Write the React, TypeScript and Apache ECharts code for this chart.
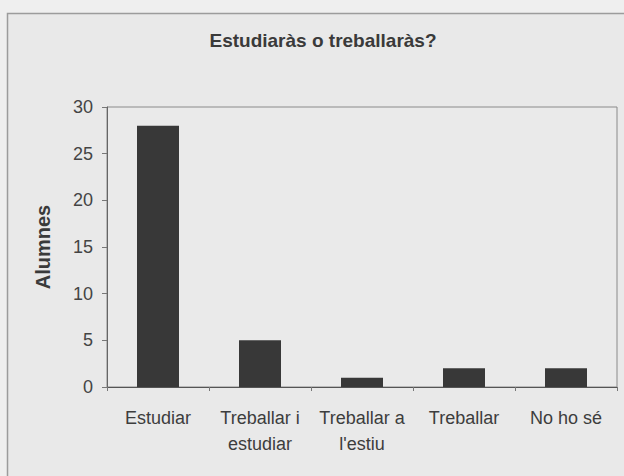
import React, { useEffect, useRef } from "react";
import * as echarts from "echarts";

const categories = ["Estudiar", "Treballar i\nestudiar", "Treballar a\nl'estiu", "Treballar", "No ho sé"];
const alumnes = [28, 5, 1, 2, 2];
const yTicks = { min: 0, max: 30, interval: 5 };
const titleText = "Estudiaràs o treballaràs?";
const yName = "Alumnes";

export default function App() {
  const ref = useRef<HTMLDivElement>(null);
  useEffect(() => {
    if (!ref.current) return;
    const chart = echarts.init(ref.current, null, { renderer: "svg" });
    const font = "'Liberation Sans', Arial, sans-serif";
    chart.setOption({
      animation: false,
      backgroundColor: "#efefef",
      textStyle: { fontFamily: font },
      graphic: [
        {
          type: "rect",
          z: -10,
          shape: { x: 7.5, y: 13.5, width: 700, height: 600 },
          style: { fill: "#e9e9e9", stroke: "#9c9c9c", lineWidth: 1.5 },
        },
        {
          type: "text",
          x: 323,
          y: 40,
          style: {
            text: titleText,
            fill: "#3a3a3a",
            font: "bold 19px 'Liberation Sans', Arial, sans-serif",
            textAlign: "center",
            textVerticalAlign: "middle",
          },
        },
      ],
      grid: {
        left: 107,
        top: 107,
        right: 7,
        bottom: 89,
        show: true,
        borderColor: "#8a8a8a",
        borderWidth: 1,
        backgroundColor: "#eaeaea",
      },
      xAxis: {
        type: "category",
        data: categories,
        axisLine: { lineStyle: { color: "#555", width: 1 } },
        axisTick: { show: true, length: 4, lineStyle: { color: "#777" } },
        axisLabel: {
          interval: 0,
          hideOverlap: false,
          fontSize: 18,
          color: "#3d3d3d",
          lineHeight: 26,
          margin: 18,
          fontFamily: font,
        },
      },
      yAxis: {
        type: "value",
        min: yTicks.min,
        max: yTicks.max,
        interval: yTicks.interval,
        name: yName,
        nameLocation: "middle",
        nameGap: 54,
        nameRotate: 90,
        nameTextStyle: { fontSize: 20, fontWeight: "bold", color: "#3a3a3a", fontFamily: font },
        axisLine: { show: true, lineStyle: { color: "#666", width: 1 } },
        axisTick: { show: true, length: 5, lineStyle: { color: "#777" } },
        splitLine: { show: false },
        axisLabel: { fontSize: 18, color: "#444", margin: 14, fontFamily: font },
      },
      series: [
        {
          type: "bar",
          data: alumnes,
          barWidth: 42,
          itemStyle: { color: "#383838" },
        },
      ],
    });
    return () => chart.dispose();
  }, []);
  return (
    <div
      ref={ref}
      style={{ position: "fixed", left: 0, top: 0, width: 624, height: 476 }}
    />
  );
}
